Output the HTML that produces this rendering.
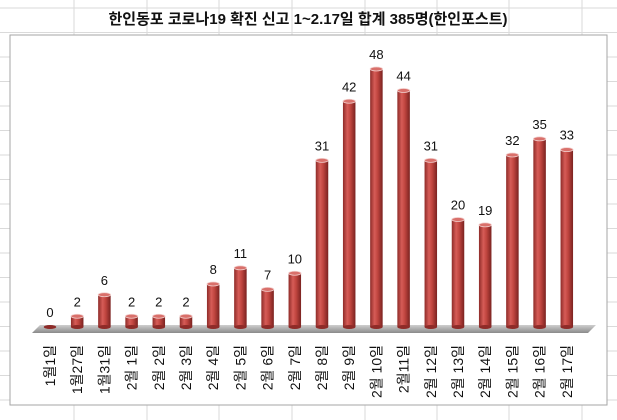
<!DOCTYPE html>
<html><head><meta charset="utf-8"><style>
body{margin:0;background:#fff}
svg{display:block;font-family:"Liberation Sans","Noto Sans CJK KR",sans-serif}
</style></head><body>
<svg id="c" width="617" height="420">
<defs>
<linearGradient id="bg" x1="0" x2="1" y1="0" y2="0">
<stop offset="0" stop-color="#8e2b28"/><stop offset="0.35" stop-color="#d65c57"/><stop offset="0.6" stop-color="#c0453f"/><stop offset="1" stop-color="#7a2220"/>
</linearGradient>
<linearGradient id="fl" x1="0" x2="0" y1="0" y2="1"><stop offset="0" stop-color="#cfcfcf"/><stop offset="1" stop-color="#8a8a8a"/></linearGradient>
</defs>
<g id="grid"></g>
<rect x="10" y="35" width="597" height="370" fill="#fff" stroke="#a6a6a6"/>
<text x="308" y="24" text-anchor="middle" font-size="15" font-weight="bold" fill="#111">한인동포 코로나19 확진 신고 1~2.17일 합계 385명(한인포스트)</text>
<polygon points="40,325 596,325 588,333 32,333" fill="url(#fl)"/>
<g id="bars"></g>
</svg>
<script>
const categories=["1월1일","1월27일","1월31일","2월 1일","2월 2일","2월 3일","2월 4일","2월 5일","2월 6일","2월 7일","2월 8일","2월 9일","2월 10일","2월11일","2월 12일","2월 13일","2월 14일","2월 15일","2월 16일","2월 17일"];
const values=[0,2,6,2,2,2,8,11,7,10,31,42,48,44,31,20,19,32,35,33];
const NS="http://www.w3.org/2000/svg";
const svg=document.getElementById('c');
const grid=document.getElementById('grid');
function mk(t,a,p){const e=document.createElementNS(NS,t);for(const k in a)e.setAttribute(k,a[k]);p.appendChild(e);return e;}
[74,147,219,292,365,437,509,582].forEach(x=>{const l=mk('line',{x1:x,x2:x,y1:0,y2:420,stroke:'#dadada'},grid);});
for(let y=8;y<420;y+=24.5){const l=mk('line',{x1:0,x2:617,y1:y,y2:y,stroke:'#dadada'},grid);}
const base=327, scale=5.375, x0=50, step=27.2, bw=12.5;
function xs(i){return x0+i*step;}
function ys(v){return base-v*scale;}
const g=document.getElementById('bars');
values.forEach((v,i)=>{
 const cx=xs(i), top=ys(v);
 const grp=mk('g',{},g);
 
 
 if(v>0){
  mk('rect',{x:cx-bw/2,y:top,width:bw,height:base-top,fill:'url(#bg)'},grp);
  mk('ellipse',{cx:cx,cy:base,rx:bw/2,ry:2,fill:'#8e2b28'},grp);
  mk('ellipse',{cx:cx,cy:top,rx:bw/2,ry:2,fill:'#d9706b',stroke:'#f2d0ce','stroke-width':0.8},grp);
 } else {
  mk('ellipse',{cx:cx,cy:base,rx:bw/2,ry:2,fill:'#8e2b28'},grp);
 }
 const t=mk('text',{x:cx,y:top-10,'text-anchor':'middle','font-size':13,fill:'#111'},svg);
 t.textContent=v;
 
 
 const c=mk('text',{x:0,y:0,'text-anchor':'end','font-size':14,fill:'#111',transform:`translate(${cx+5},345) rotate(-90)`},svg);
 c.textContent=categories[i];
 
 
});
</script>
</body></html>
